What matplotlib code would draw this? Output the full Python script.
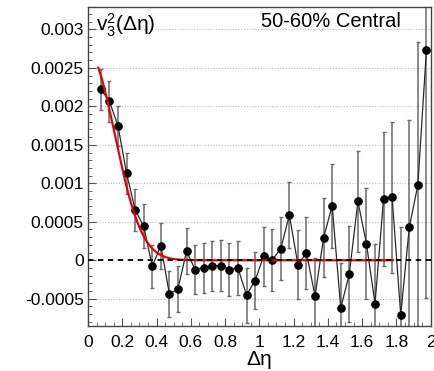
import numpy as np
import matplotlib
matplotlib.use("Agg")
import matplotlib.pyplot as plt
from matplotlib.ticker import MultipleLocator, FixedLocator

plt.rcParams["font.family"] = ["Liberation Sans", "DejaVu Sans"]
plt.rcParams["mathtext.fontset"] = "custom"
plt.rcParams["mathtext.rm"] = "Liberation Sans"
plt.rcParams["mathtext.it"] = "Liberation Sans"
plt.rcParams["mathtext.bf"] = "Liberation Sans:bold"

# Bin centres in delta-eta
deta = [0.075, 0.125, 0.175, 0.225, 0.275, 0.325, 0.375, 0.425, 0.475, 0.525,
        0.575, 0.625, 0.675, 0.725, 0.775, 0.825, 0.875, 0.925, 0.975, 1.025,
        1.075, 1.125, 1.175, 1.225, 1.275, 1.325, 1.375, 1.425, 1.475, 1.525,
        1.575, 1.625, 1.675, 1.725, 1.775, 1.825, 1.875, 1.925, 1.975]

# v3^2 values and statistical errors
v3sq = [0.00222, 0.002065, 0.001745, 0.00113, 0.000657, 0.00044, -0.000078,
        0.00019, -0.00044, -0.00037, 0.000117, -0.00012, -0.000095, -0.00007,
        -0.00007, -0.00012, -0.0001, -0.000453, -0.000263, 0.000052, 0.000005,
        0.00015, 0.000588, -0.000056, 0.000096, -0.000466, 0.000294, 0.000709,
        -0.000622, -0.000176, 0.000764, 0.000216, -0.000565, 0.000799,
        0.000816, -0.000712, 0.000427, 0.000977, 0.00273]
v3sq_err = [0.00027, 0.000265, 0.00026, 0.00027, 0.000274, 0.000285, 0.00028,
            0.0003, 0.000296, 0.0003, 0.0003, 0.000313, 0.000324, 0.000324,
            0.000335, 0.000345, 0.000348, 0.000356, 0.000376, 0.000384, 0.0004,
            0.000408, 0.000425, 0.000443, 0.000469, 0.00049, 0.000512,
            0.000546, 0.000587, 0.000624, 0.00066, 0.000719, 0.00078,
            0.00087, 0.00098, 0.00115, 0.00139, 0.00186, 0.00322]

# Gaussian fit to the near-side peak
fit_amp = 0.00269
fit_k = 20.4
fit_range = (0.06, 1.78)

yticks = [-0.0005, 0, 0.0005, 0.001, 0.0015, 0.002, 0.0025, 0.003]
ytick_labels = ["-0.0005", "0", "0.0005", "0.001", "0.0015", "0.002", "0.0025", "0.003"]
xticks = [0, 0.2, 0.4, 0.6, 0.8, 1.0, 1.2, 1.4, 1.6, 1.8, 2.0]
xtick_labels = ["0", "0.2", "0.4", "0.6", "0.8", "1", "1.2", "1.4", "1.6", "1.8", "2"]

fig = plt.figure(figsize=(4.34, 3.71), dpi=100)
ax = fig.add_axes([0.2028, 0.1221, 0.7896, 0.859])

ax.set_xlim(0, 2.0)
ax.set_ylim(-0.00085, 0.00329)

# dotted horizontal grid (zero handled by the dashed line)
for yv in yticks:
    if yv != 0:
        ax.axhline(yv, color="#bdbdbd", lw=0.8, ls=(0, (1, 1.5)), zorder=0)

ax.errorbar(deta, v3sq, yerr=v3sq_err, fmt="none", ecolor="#6a6a6a",
            elinewidth=1.1, capsize=1.5, capthick=1.0, zorder=2)
ax.plot(deta, v3sq, color="#2a2a2a", lw=0.9, zorder=3)
ax.plot(deta, v3sq, "o", color="black", ms=5.2, zorder=4)

xf = np.linspace(fit_range[0], fit_range[1], 400)
ax.plot(xf, fit_amp * np.exp(-fit_k * xf ** 2), color="#e8000b", lw=1.6, zorder=5)

ax.axhline(0, color="black", lw=1.3, ls=(0, (3, 2.5)), zorder=6)

ax.yaxis.set_major_locator(FixedLocator(yticks))
ax.set_yticklabels(ytick_labels)
ax.xaxis.set_major_locator(FixedLocator(xticks))
ax.set_xticklabels(xtick_labels)
ax.xaxis.set_minor_locator(MultipleLocator(0.05))
ax.yaxis.set_minor_locator(MultipleLocator(0.0001))
ax.tick_params(which="both", direction="in", top=False, right=False,
               colors="#555555", labelcolor="black", labelsize=12.5)
ax.tick_params(which="major", length=6, width=0.8)
ax.tick_params(which="minor", length=3, width=0.6)
ax.tick_params(axis="x", pad=7)
ax.tick_params(axis="y", pad=3)

for sp in ax.spines.values():
    sp.set_color("#444444")
    sp.set_linewidth(1.0)

ax.set_xlabel("Δη", fontsize=15, labelpad=0)

ax.text(0.022, 0.985, r"$\mathrm{v}_3^2(\Delta\eta)$", transform=ax.transAxes,
        fontsize=15, va="top", ha="left", zorder=7)
ax.text(0.71, 0.985, "50-60% Central", transform=ax.transAxes,
        fontsize=14.5, va="top", ha="center", zorder=7)

fig.savefig("out.png", dpi=100)
